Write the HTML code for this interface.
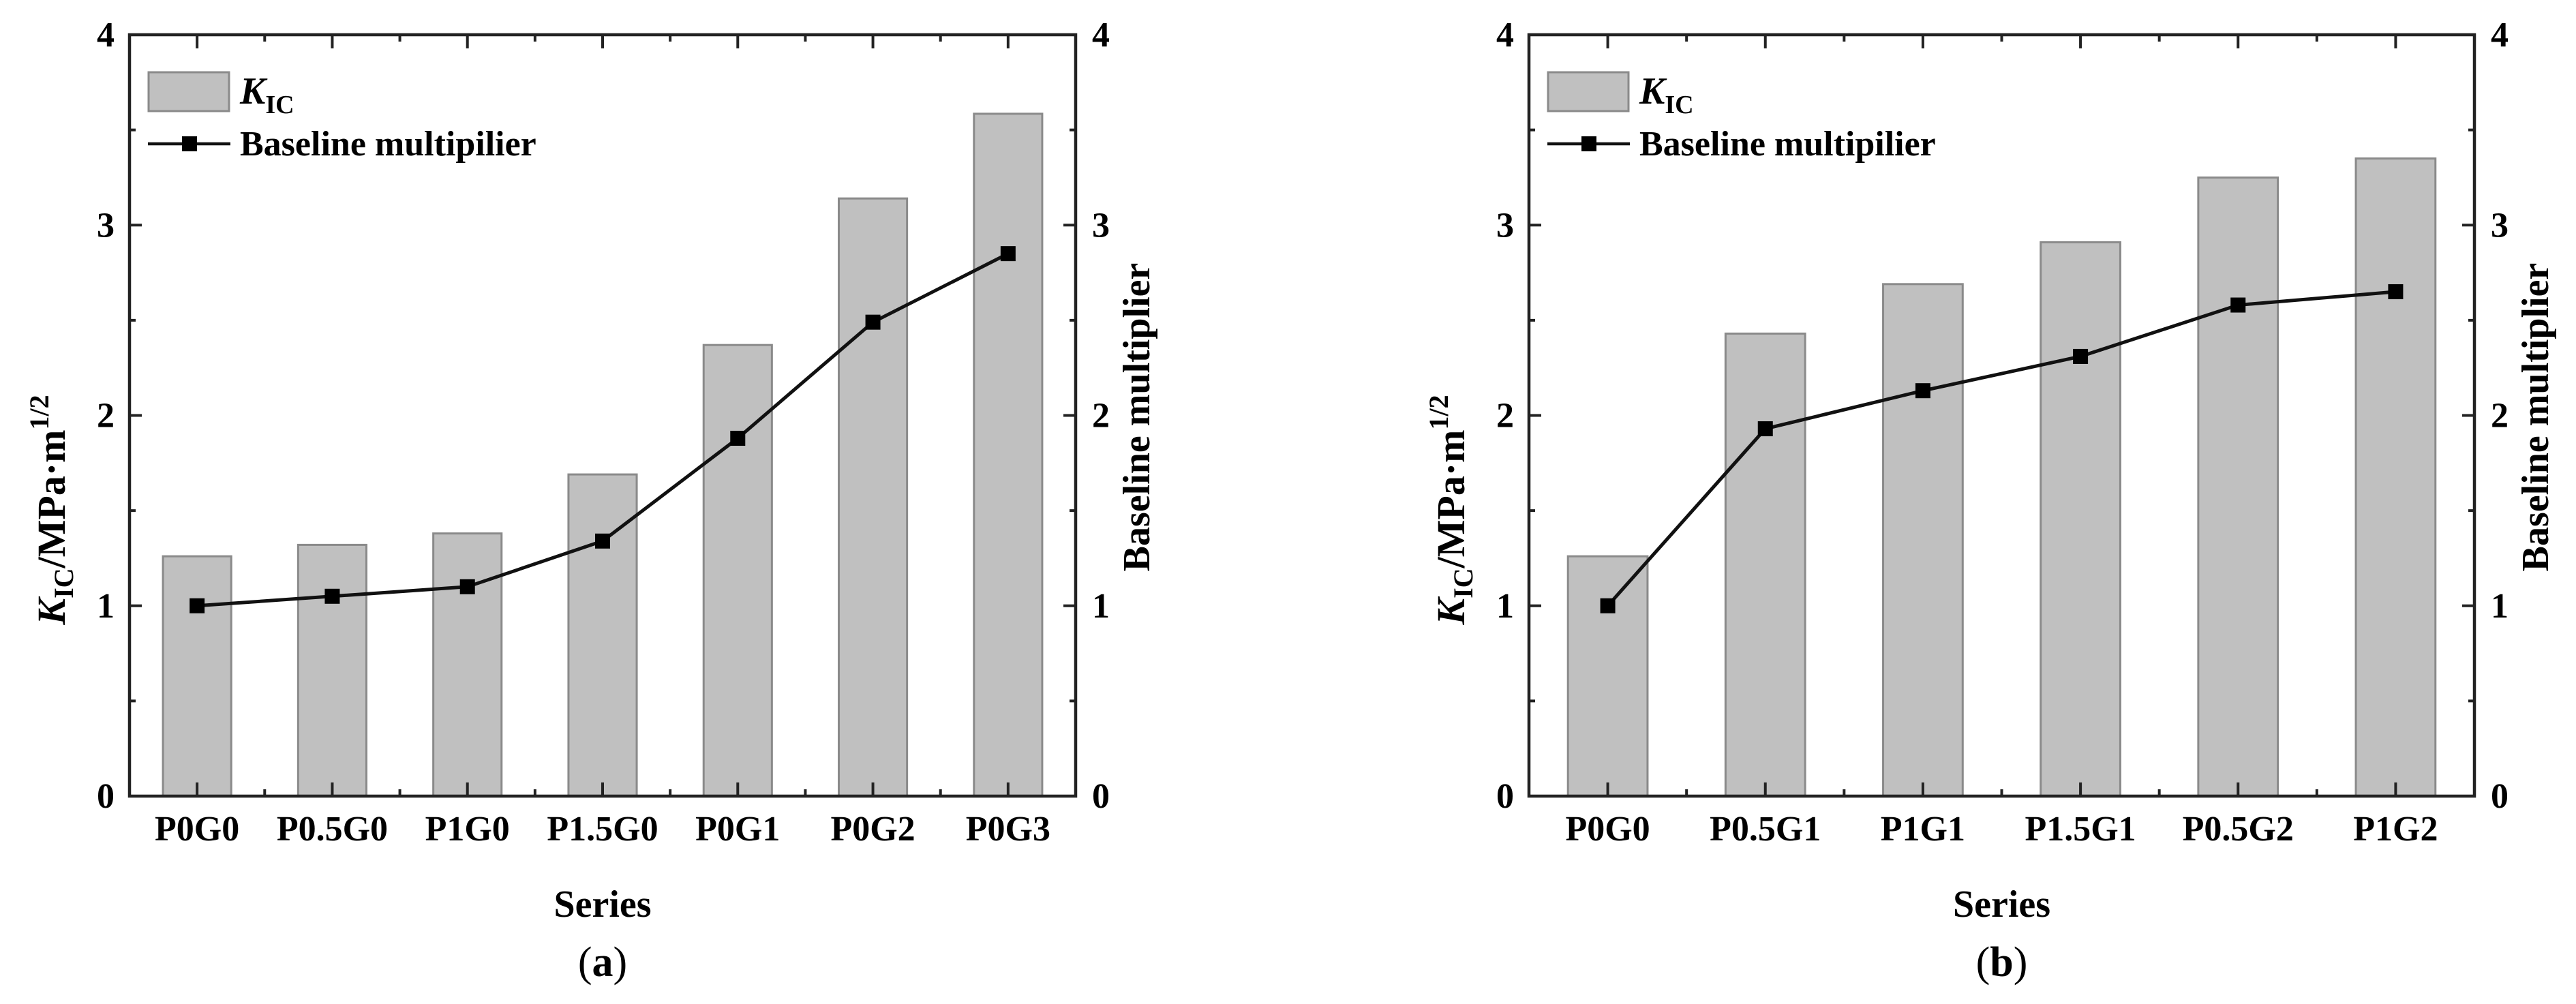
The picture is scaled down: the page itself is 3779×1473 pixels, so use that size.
<!DOCTYPE html>
<html><head><meta charset="utf-8"><style>
html,body{margin:0;padding:0;background:#fff;}
svg{display:block;font-family:"Liberation Serif",serif;}
</style></head><body>
<svg id="fig" width="3779" height="1473" viewBox="0 0 3779 1473" xmlns="http://www.w3.org/2000/svg"></svg>
<script>
const catsA = ["P0G0","P0.5G0","P1G0","P1.5G0","P0G1","P0G2","P0G3"];
const kicA = [1.26,1.32,1.38,1.69,2.37,3.14,3.585];
const multA = [1.0,1.05,1.10,1.34,1.88,2.49,2.85];
const catsB = ["P0G0","P0.5G1","P1G1","P1.5G1","P0.5G2","P1G2"];
const kicB = [1.26,2.43,2.69,2.91,3.25,3.35];
const multB = [1.0,1.93,2.13,2.31,2.58,2.65];
const yTicks = [0,1,2,3,4];

const NS="http://www.w3.org/2000/svg";
const svg=document.getElementById('fig');
function mk(tag,attrs,parent,text){const e=document.createElementNS(NS,tag);for(const k in attrs)e.setAttribute(k,attrs[k]);if(text!==undefined)e.textContent=text;(parent||svg).appendChild(e);return e;}

function chart(id,L,R,cats,kic,mult,tag){
  const T=51,B=1168,yMax=4;
  const g=mk('g',{});
  
  
  const n=cats.length, step=(R-L)/n;
  const xc=i=>L+step*(i+0.5);
  const y=v=>B-(v/yMax)*(B-T);
  const bw=step*0.505;
  kic.forEach((v,i)=>{
    const r=mk('rect',{x:xc(i)-bw/2,y:y(v),width:bw,height:B-y(v),fill:'#c0c0c0',stroke:'#8a8a8a','stroke-width':3},g);
    
    
  });
  const tk=mk('g',{stroke:'#222','stroke-width':4},g);
  
  
  for(let v=0;v<=yMax;v+=0.5){
    const len=(v%1===0)?18:9;
    mk('line',{x1:L,x2:L+len,y1:y(v),y2:y(v)},tk);
    mk('line',{x1:R,x2:R-len,y1:y(v),y2:y(v)},tk);
  }
  for(let i=0;i<n;i++){
    mk('line',{x1:xc(i),x2:xc(i),y1:B,y2:B-20},tk);
    mk('line',{x1:xc(i),x2:xc(i),y1:T,y2:T+20},tk);
    if(i<n-1){mk('line',{x1:L+step*(i+1),x2:L+step*(i+1),y1:B,y2:B-10},tk);mk('line',{x1:L+step*(i+1),x2:L+step*(i+1),y1:T,y2:T+10},tk);}
  }
  const f=mk('rect',{x:L,y:T,width:R-L,height:B-T,fill:'none',stroke:'#222','stroke-width':4.5},g);
  
  
  const pts=mult.map((v,i)=>xc(i)+','+y(v)).join(' ');
  const pl=mk('polyline',{points:pts,fill:'none',stroke:'#111','stroke-width':5},g);
  
  
  mult.forEach((v,i)=>{
    const m=mk('rect',{x:xc(i)-11,y:y(v)-11,width:22,height:22,fill:'#000'},g);
    
    
  });
  yTicks.forEach(v=>{
    const a=mk('text',{x:L-35,y:y(v)+17,'font-size':52,'font-weight':'bold','text-anchor':'middle'},g,String(v));
    
    
    const b=mk('text',{x:R+37,y:y(v)+17,'font-size':52,'font-weight':'bold','text-anchor':'middle'},g,String(v));
    
    
  });
  cats.forEach((c,i)=>{
    const t=mk('text',{x:xc(i),y:1233,'font-size':52,'font-weight':'bold','text-anchor':'middle'},g,c);
    
    
  });
  const xt=mk('text',{x:(L+R)/2,y:1345,'font-size':56,'font-weight':'bold','text-anchor':'middle'},g,'Series');
  
  
  const yl=mk('text',{transform:`translate(${L-95},748) rotate(-90)`,'font-size':58,'font-weight':'bold','text-anchor':'middle'},g);
  
  
  mk('tspan',{'font-style':'italic'},yl,'K');
  mk('tspan',{'font-size':40,dy:12},yl,'IC');
  mk('tspan',{dy:-12},yl,'/MPa·m');
  mk('tspan',{'font-size':40,dy:-24},yl,'1/2');
  const yr=mk('text',{transform:`translate(${R+108},612) rotate(-90)`,'font-size':56,'font-weight':'bold','text-anchor':'middle'},g,'Baseline multiplier');
  
  
  const lg=mk('g',{},g);
  
  
  mk('rect',{x:L+28,y:106,width:118,height:57,fill:'#c0c0c0',stroke:'#8a8a8a','stroke-width':3},lg);
  const k=mk('text',{x:L+162,y:152,'font-size':56,'font-weight':'bold'},lg);
  mk('tspan',{'font-style':'italic'},k,'K');
  mk('tspan',{'font-size':38,dy:14},k,'IC');
  mk('line',{x1:L+27,x2:L+148,y1:211,y2:211,stroke:'#111','stroke-width':4.5},lg);
  mk('rect',{x:L+77,y:200,width:22,height:22,fill:'#000'},lg);
  mk('text',{x:L+162,y:228,'font-size':52,'font-weight':'bold'},lg,'Baseline multipilier');
  const pt=mk('text',{x:(L+R)/2,y:1432,'font-size':62,'text-anchor':'middle'},g);
  
  
  mk('tspan',{},pt,'(');
  mk('tspan',{'font-weight':'bold'},pt,tag);
  mk('tspan',{},pt,')');
}
chart('a',190,1578,catsA,kicA,multA,'a');
chart('b',2243,3630,catsB,kicB,multB,'b');
</script>
</body></html>
